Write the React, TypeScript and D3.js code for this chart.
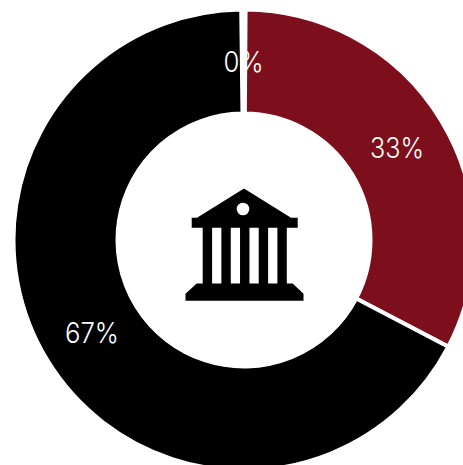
import React from "react";
import * as d3 from "d3";

const labels = ["0%", "33%", "67%"];
const values = [0.3, 32.55, 67.15];
const colors = ["#d9d9d9", "#7c0f1b", "#000000"];

const W = 463;
const H = 465;
const cx = 244;
const cy = 240;
const R = 230.5;
const r = 126.5;

export default function App() {
  const start = -0.012;
  const pie = d3.pie<number>().sort(null).value((d) => d).startAngle(start).endAngle(start + 2 * Math.PI);
  const arcs = pie(values);
  const arc = d3.arc<d3.PieArcDatum<number>>().innerRadius(r).outerRadius(R);
  const columns = d3.range(5).map((i) => 202.7 + i * 18.67);
  return (
    <svg width={W} height={H} style={{ position: "absolute", left: 0, top: 0 }}>
      <g transform={`translate(${cx},${cy})`}>
        {arcs.map((a, i) => (
          <path key={i} d={arc(a) ?? ""} fill={colors[i]} stroke="#fff" strokeWidth={4} />
        ))}
        {arcs.map((a, i) => {
          const [x, y] = arc.centroid(a);
          return (
            <text
              key={i}
              x={x}
              y={y}
              dy="0.36em"
              textAnchor="middle"
              fill="#fff"
              fontFamily="Inter"
              fontWeight={300}
              fontSize={28}
              textLength={i === 0 ? 40 : 54}
              lengthAdjust="spacingAndGlyphs"
            >
              {labels[i]}
            </text>
          );
        })}
      </g>
      <g fill="#000">
        <path d="M244 188.5L291 217.7H297.7V227.7H191.7V217.7H197Z" />
        {columns.map((x) => (
          <rect key={x} x={x} y={227} width={9.4} height={57} />
        ))}
        <path d="M196.7 283.5H292.7L303.5 293.8V300.7H185.5V293.8Z" />
      </g>
      <circle cx={243} cy={209} r={6.3} fill="#fff" />
    </svg>
  );
}
